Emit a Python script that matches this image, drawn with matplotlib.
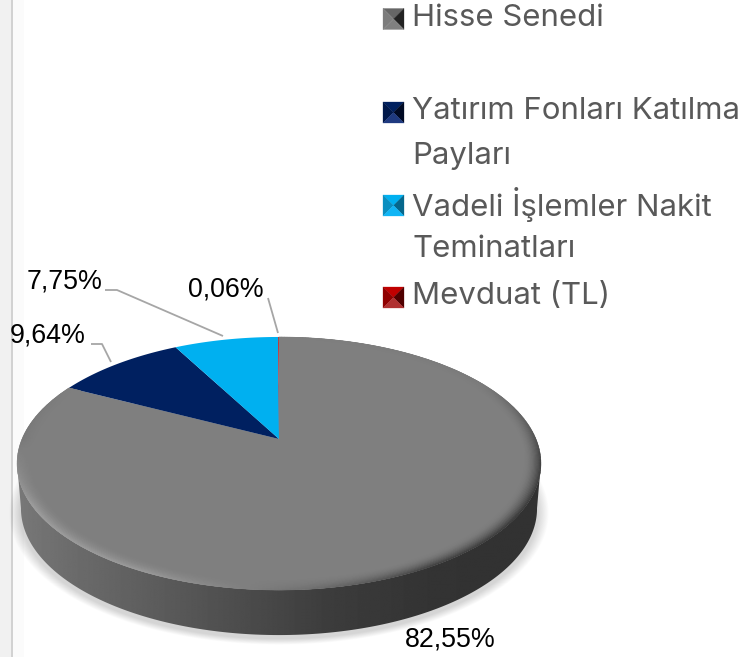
import numpy as np
import matplotlib
matplotlib.use("Agg")
import matplotlib.pyplot as plt
from matplotlib.patches import Polygon
from matplotlib.collections import PolyCollection

# --- data
categories = ["Hisse Senedi", "Yatırım Fonları Katılma\nPayları",
              "Vadeli İşlemler Nakit\nTeminatları", "Mevduat (TL)"]
values = [82.55, 9.64, 7.75, 0.06]
slice_colors = ["#7f7f7f", "#002060", "#00b0f0", "#c00000"]
marker_faces = [("#666666", "#7c7c7c", "#222222", "#808080"),
                ("#00205f", "#00184a", "#000a24", "#1f3a80"),
                ("#00b0f0", "#0a8fc0", "#05678c", "#10b5f5"),
                ("#c00000", "#900000", "#500000", "#b03030")]
value_labels = [f"{v:.2f}%".replace(".", ",") for v in values]
label_pos = [(450, 640), (48, 336), (65, 281), (226, 290)]
leaders = [None,
           [(91, 344), (102, 344), (111, 362)],
           [(105, 290), (117, 290), (223, 336)],
           [(268, 298), (278, 333)]]
legend_lines = [[18, ], [111, 156], [204, 249], [296]]
legend_marker_y = [19, 112.5, 205.5, 297.5]

# --- pie projection
CX, CY = 279.0, 439.0
P, CK, AK = 0.1937, 121.8, 257.0
DEPTH = 45.0


def proj(r, th, dy=0.0, sx=1.0):
    x, y = r * np.cos(th), r * np.sin(th)
    d = 1 + P * y
    return np.column_stack([CX + sx * AK * x / d, CY - CK * y / d + dy])


fig = plt.figure(figsize=(7.5, 6.57), dpi=100)
ax = fig.add_axes([0, 0, 1, 1])
ax.set_xlim(0, 750)
ax.set_ylim(657, 0)
ax.axis("off")

# left window strip
ax.axvspan(0, 10.5, color="#f1f1f1", lw=0, zorder=0)
ax.axvspan(10.5, 13, color="#d2d2d2", lw=0, zorder=0)
ax.axvspan(13, 24, color="#fbfbfb", lw=0, zorder=0)

# soft shadow
tt = np.linspace(0, 2 * np.pi, 361)
shadow = proj(1.0, tt, dy=DEPTH + 4, sx=0.99)
scx, scy = shadow.mean(axis=0)
for k in np.linspace(1.04, 1.0, 14):
    pts = np.column_stack([scx + (shadow[:, 0] - scx) * k,
                           scy + (shadow[:, 1] - scy) * k])
    ax.add_patch(Polygon(pts, closed=True, fc="#000000", ec="none", alpha=0.010, zorder=1))

# side wall (horizontal gradient clipped to the wall outline)
r_left = np.argmin(proj(1.0, tt)[:, 0])
r_right = np.argmax(proj(1.0, tt)[:, 0])
th_l, th_r = tt[r_left], tt[r_right]
arc = np.linspace(th_l, th_r + 2 * np.pi if th_r < th_l else th_r, 240)
top_low = proj(1.0, arc)
bot_low = proj(1.0, arc, dy=DEPTH, sx=0.985)
wall = np.vstack([top_low, bot_low[::-1]])
wall_patch = Polygon(wall, closed=True, fc="none", ec="none", zorder=2)
ax.add_patch(wall_patch)
gx = np.array([0.0, 0.1, 0.35, 0.6, 0.8, 1.0])
gv = np.array([0x78, 0x6c, 0x54, 0x3c, 0x33, 0x32]) / 255
grad = np.interp(np.linspace(0, 1, 520), gx, gv)[None, :]
im = ax.imshow(grad, cmap="gray", vmin=0, vmax=1, aspect="auto",
               extent=(17, 541, 640, 460), zorder=2, interpolation="bilinear")
im.set_clip_path(wall_patch)
ax.set_xlim(0, 750)
ax.set_ylim(657, 0)

# top face slices, clockwise from twelve o'clock
start = np.pi / 2
for v, c in zip(values, slice_colors):
    sweep = v / sum(values) * 2 * np.pi
    th = np.linspace(start, start - sweep, max(3, int(v * 6)))
    pts = np.vstack([[CX, CY], proj(1.0, th)])
    ax.add_patch(Polygon(pts, closed=True, fc=c, ec="none", zorder=3))
    start -= sweep

# bevel on the grey slice's rim
grey_end = np.pi / 2 - values[0] / sum(values) * 2 * np.pi
b_th = np.linspace(np.pi / 2, grey_end, 420)
anch_t = np.array([90, 30, 10, -10, -35, -60, -85, -115, -150, -180, -200, -208])
anch_v = np.array([0x7f, 0x7a, 0x60, 0x40, 0x38, 0x3e, 0x70, 0x9c, 0xa0, 0x78, 0x7c, 0x7f])
rim = np.interp(-np.degrees(b_th), -anch_t, anch_v) / 255
base = 0x7f / 255
rs = np.linspace(1.0, 0.94, 15)
polys, cols = [], []
for i in range(len(rs) - 1):
    f = (1 - i / (len(rs) - 1)) ** 1.8
    a, b = proj(rs[i], b_th), proj(rs[i + 1], b_th)
    for j in range(len(b_th) - 1):
        polys.append([a[j], a[j + 1], b[j + 1], b[j]])
        g = base + (rim[j] - base) * f
        cols.append((g, g, g))
ax.add_collection(PolyCollection(polys, facecolors=cols, edgecolors=cols, linewidths=0.3, zorder=4))

# leaders and value labels
for pts in leaders:
    if pts:
        a = np.array(pts)
        ax.plot(a[:, 0], a[:, 1], color="#a6a6a6", lw=1.3, zorder=5, solid_capstyle="butt")
for s, (x, y) in zip(value_labels, label_pos):
    ax.text(x, y, s, ha="center", va="center", fontsize=19.3, color="black",
            family="Liberation Sans", zorder=6)

# legend
for name, ys, yc, faces in zip(categories, legend_lines, legend_marker_y, marker_faces):
    for line, y in zip(name.split("\n"), ys):
        ax.text(412, y, line, ha="left", va="center", fontsize=22.4, color="#595959",
                family="Inter", zorder=6)
    x0, x1, y0, y1 = 383, 404, yc - 10.5, yc + 10.5
    mid = ((x0 + x1) / 2, yc)
    tris = [[(x0, y0), (x1, y0), mid], [(x0, y0), (x0, y1), mid],
            [(x1, y0), (x1, y1), mid], [(x0, y1), (x1, y1), mid]]
    for t, fc in zip(tris, faces):
        ax.add_patch(Polygon(t, closed=True, fc=fc, ec=fc, lw=0.2, zorder=6))

fig.savefig("out.png", dpi=100, facecolor="white")
